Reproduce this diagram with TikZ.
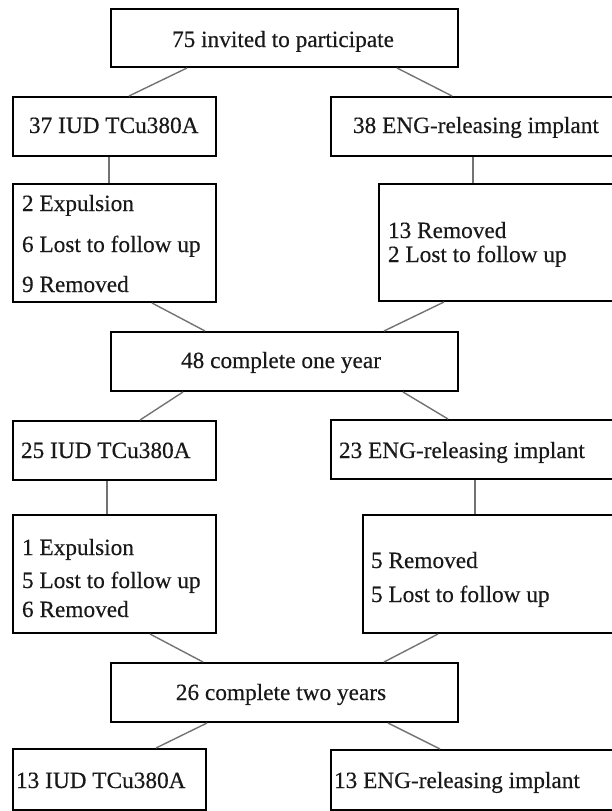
\documentclass[tikz,border=0pt]{standalone}
\usepackage{fontspec}
\setmainfont{Liberation Serif}
\newfontfamily\lblfont[FakeBold=0.35]{Liberation Serif}
\begin{document}
\begin{tikzpicture}[x=1pt,y=-1pt,
  box/.style={draw=black, line width=2pt, rectangle, inner sep=0pt, anchor=north west},
  conn/.style={draw=black!55, line width=1.4pt},
  lbl/.style={font=\lblfont\fontsize{23.3}{25}\selectfont, inner sep=0pt, outer sep=0pt, anchor=base west, text=black!90},
  clbl/.style={lbl, anchor=base}]
\useasboundingbox (0,0) rectangle (611,811);
% boxes
\node[box, minimum width=347pt, minimum height=58pt] (top) at (110,8) {};
\node[box, minimum width=203pt, minimum height=59pt] (b37) at (12,96) {};
\node[box, minimum width=282pt, minimum height=59pt] (b38) at (330,96) {};
\node[box, minimum width=203pt, minimum height=118pt] (L1) at (12,183) {};
\node[box, minimum width=234pt, minimum height=117pt] (R1) at (378,183) {};
\node[box, minimum width=347pt, minimum height=59pt] (b48) at (110,331) {};
\node[box, minimum width=203pt, minimum height=59pt] (b25) at (12,420) {};
\node[box, minimum width=282pt, minimum height=59pt] (b23) at (330,419) {};
\node[box, minimum width=203pt, minimum height=118pt] (L2) at (12,514) {};
\node[box, minimum width=250pt, minimum height=118pt] (R2) at (362,514) {};
\node[box, minimum width=347pt, minimum height=59pt] (b26) at (110,662) {};
\node[box, minimum width=193pt, minimum height=61pt] (b13a) at (12,748) {};
\node[box, minimum width=282pt, minimum height=60pt] (b13b) at (330,749) {};
% texts
\node[clbl] (t0) at (283,47) {75 invited to participate};
\node[lbl] (t37) at (29,133) {37 IUD TCu380A};
\node[lbl] (t38) at (353,133) {38 ENG-releasing implant};
\node[lbl] (tl1a) at (22,211) {2 Expulsion};
\node[lbl] (tl1b) at (22,252) {6 Lost to follow up};
\node[lbl] (tl1c) at (22,292) {9 Removed};
\node[lbl] (tr1a) at (388,238) {13 Removed};
\node[lbl] (tr1b) at (388,262) {2 Lost to follow up};
\node[clbl] (t48) at (281,368) {48 complete one year};
\node[lbl] (t25) at (21,458) {25 IUD TCu380A};
\node[lbl] (t23) at (339,458) {23 ENG-releasing implant};
\node[lbl] (tl2a) at (22,555) {1 Expulsion};
\node[lbl] (tl2b) at (22,588) {5 Lost to follow up};
\node[lbl] (tl2c) at (22,617) {6 Removed};
\node[lbl] (tr2a) at (371,568) {5 Removed};
\node[lbl] (tr2b) at (371,602) {5 Lost to follow up};
\node[clbl] (t26) at (281,700) {26 complete two years};
\node[lbl] (t13a) at (16,788) {13 IUD TCu380A};
\node[lbl] (t13b) at (334,788) {13 ENG-releasing implant};
% connectors
\draw[conn] ([xshift=77pt]top.south west) -- ([xshift=117pt]b37.north west);
\draw[conn] ([xshift=287pt]top.south west) -- ([xshift=122pt]b38.north west);
\draw[conn] ([xshift=97pt]b37.south west) -- ([xshift=97pt]L1.north west);
\draw[conn] ([xshift=143pt]b38.south west) -- ([xshift=95pt]R1.north west);
\draw[conn] ([xshift=140pt]L1.south west) -- ([xshift=95pt]b48.north west);
\draw[conn] ([xshift=66pt]R1.south west) -- ([xshift=274pt]b48.north west);
\draw[conn] ([xshift=73pt]b48.south west) -- ([xshift=128pt]b25.north west);
\draw[conn] ([xshift=293pt]b48.south west) -- ([xshift=118pt]b23.north west);
\draw[conn] ([xshift=95pt]b25.south west) -- ([xshift=95pt]L2.north west);
\draw[conn] ([xshift=145pt]b23.south west) -- ([xshift=113pt]R2.north west);
\draw[conn] ([xshift=138pt]L2.south west) -- ([xshift=93pt]b26.north west);
\draw[conn] ([xshift=76pt]R2.south west) -- ([xshift=274pt]b26.north west);
\draw[conn] ([xshift=97pt]b26.south west) -- ([xshift=144pt]b13a.north west);
\draw[conn] ([xshift=278pt]b26.south west) -- ([xshift=110pt]b13b.north west);
\end{tikzpicture}
\end{document}
